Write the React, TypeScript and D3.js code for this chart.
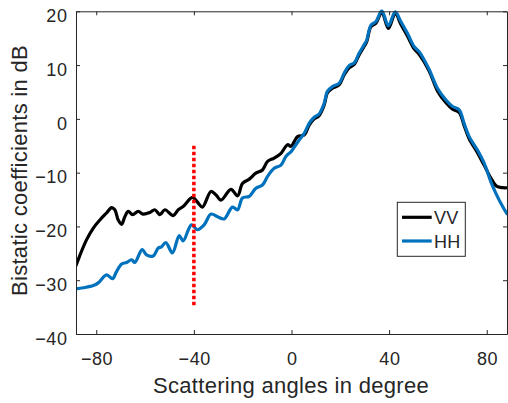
import React, { useEffect, useRef } from "react";
import * as d3 from "d3";

// bistatic scattering coefficients, VV vs HH

const vvAngles = [
  -88.5, -86.9, -84, -81.2, -78.5, -75.8, -73.7, -72.4, -71, -69.6, -68.3, -66.9, -65.1, -62.8,
  -60.8, -58, -56, -53.9, -51.9, -48.5, -46.4, -44.4, -40.6, -38.5, -36.5, -33, -31, -28.9, -24.8,
  -22.1, -20.1, -17.3, -14.6, -11.9, -9.8, -7.1, -4.3, -1.6, -0.2, 2.5, 5.2, 7.3, 9.3, 11.3, 13.4,
  14.7, 16.8, 19.5, 21.6, 23.6, 25.7, 27.7, 29.8, 30.8, 32.5, 34.6, 37, 39.7, 42.5, 44.8, 47.5,
  50.3, 52.3, 56.4, 59.8, 63.3, 66, 68.7, 70.7, 72.8, 76.2, 78.9, 81.7, 84, 86.5, 88.5,
];
const vvValues = [
  -27.5, -25.6, -22.5, -20.3, -18.8, -17.5, -16.5, -16.9, -18.8, -19.6, -18.2, -17.2, -17.8, -17.2,
  -17.7, -17.4, -16.9, -17.8, -16.9, -18.0, -16.9, -16.3, -14.6, -15.5, -16.4, -13.5, -14.1, -15.1,
  -13.1, -14.3, -12.0, -11.2, -10.1, -9.5, -7.9, -7.3, -6.4, -4.8, -5.1, -3.3, -3.0, -1.1, 0.0, 0.6,
  2.6, 4.8, 5.7, 6.3, 8.2, 9.5, 10.1, 11.9, 13.5, 14.3, 17.1, 17.8, 19.8, 16.8, 19.6, 17.6, 15.4,
  13.0, 12.0, 8.9, 5.2, 3.0, 1.8, 1.2, -1.2, -3.7, -6.3, -8.6, -11.0, -12.5, -12.8, -12.8,
];

const hhAngles = [
  -88.5, -85.3, -81.2, -79.2, -75.8, -73.3, -71.7, -69.6, -67.6, -65.5, -64.2, -61.2, -59.4, -56.7,
  -54.6, -53.3, -51.5, -48.8, -46, -44.4, -41, -38.5, -35.8, -33, -30.3, -27.6, -24.2, -22.1, -20.1,
  -17.3, -14.6, -11.9, -9.8, -7.1, -4.3, -2.3, -0.2, 1.5, 3.2, 5.2, 7.3, 9.3, 11.3, 13.4, 14.7,
  16.8, 19.5, 21.6, 23.6, 25.7, 27.7, 29.8, 30.8, 32.5, 34.6, 37, 39.7, 42.5, 44.8, 47.5, 50.3,
  52.3, 56.4, 59.8, 63.3, 66, 68.7, 70.7, 72.8, 76.2, 78.9, 81.7, 83.7, 86.5, 88.5,
];
const hhValues = [
  -31.6, -31.4, -31.0, -30.5, -29.0, -29.7, -28.4, -27.0, -26.7, -26.2, -26.7, -24.3, -25.3, -25.5,
  -24.0, -23.8, -23.0, -24.9, -21.7, -22.7, -19.7, -20.6, -19.7, -17.7, -18.2, -18.6, -16.4, -16.9,
  -14.7, -14.4, -12.9, -12.3, -10.7, -9.2, -8.6, -7.0, -6.1, -5.0, -3.9, -2.7, -0.8, 0.3, 0.9, 2.9,
  5.1, 6.0, 6.6, 8.5, 9.9, 10.4, 12.2, 13.8, 14.6, 17.4, 18.1, 20.1, 17.3, 19.9, 18.1, 15.9, 13.4,
  12.5, 9.2, 5.7, 3.5, 2.3, 1.7, -0.8, -3.3, -5.8, -8.2, -11.7, -13.8, -16.3, -17.8,
];

const xTicks = [-80, -40, 0, 40, 80];
const yTicks = [-40, -30, -20, -10, 0, 10, 20];
const seriesNames = ["VV", "HH"];
const markerAngle = -40;
const markerRange = [-5, -35];

const W = 508;
const H = 403;
const FONT = "'Liberation Sans', Arial, Helvetica, sans-serif";
const AX = "#262626";

export default function App() {
  const svgRef = useRef<SVGSVGElement | null>(null);

  useEffect(() => {
    const svg = d3.select(svgRef.current);
    svg.selectAll("*").remove();

    const left = 76, right = 507, top = 11.3, bottom = 334;
    const x = d3.scaleLinear().domain([-88.3, 88.3]).range([left, right]);
    const y = d3.scaleLinear().domain([-40, 20]).range([bottom, top]);

    svg.append("defs").append("clipPath").attr("id", "plot-clip")
      .append("rect").attr("x", left).attr("y", top - 2)
      .attr("width", right - left).attr("height", bottom - top + 2);

    const line = d3.line<[number, number]>()
      .x((d) => x(d[0]))
      .y((d) => y(d[1]))
      .curve(d3.curveCatmullRom.alpha(0.5));

    const vv = vvAngles.map((a, i) => [a, vvValues[i]] as [number, number]);
    const hh = hhAngles.map((a, i) => [a, hhValues[i]] as [number, number]);

    const plot = svg.append("g").attr("clip-path", "url(#plot-clip)");
    plot.append("path").datum(vv).attr("fill", "none").attr("stroke", "#000000")
      .attr("stroke-width", 3.2).attr("stroke-linejoin", "round").attr("d", line);
    plot.append("path").datum(hh).attr("fill", "none").attr("stroke", "#0072BD")
      .attr("stroke-width", 3.2).attr("stroke-linejoin", "round").attr("d", line);

    // red dotted marker at -40 deg
    svg.append("line")
      .attr("x1", x(markerAngle)).attr("x2", x(markerAngle))
      .attr("y1", y(markerRange[0])).attr("y2", y(markerRange[1]))
      .attr("stroke", "#ff0000").attr("stroke-width", 3.5)
      .attr("stroke-dasharray", "3.6,2.4");

    // axes, MATLAB style: inward ticks, box on
    const styleAxis = (g: d3.Selection<SVGGElement, unknown, null, undefined>) => {
      g.select(".domain").attr("stroke", AX).attr("stroke-width", 1);
      g.selectAll(".tick line").attr("stroke", AX);
      g.selectAll(".tick text").attr("fill", AX).attr("font-family", FONT)
        .attr("font-size", 18).attr("letter-spacing", 0.6);
    };

    const xAxis = svg.append("g").attr("transform", `translate(0,${bottom})`)
      .call(d3.axisBottom(x).tickValues(xTicks).tickSizeInner(-4).tickSizeOuter(0))
      .call(styleAxis);
    xAxis.selectAll(".tick text").attr("y", 30.5).attr("dy", null).attr("dx", 0.3);

    svg.append("g").attr("transform", `translate(0,${top})`)
      .call(d3.axisTop(x).tickValues(xTicks).tickSizeInner(-4).tickSizeOuter(0).tickFormat(() => ""))
      .call(styleAxis);

    const yAxis = svg.append("g").attr("transform", `translate(${left},0)`)
      .call(d3.axisLeft(y).tickValues(yTicks).tickSizeInner(-4).tickSizeOuter(0))
      .call(styleAxis);
    yAxis.selectAll(".tick text").attr("x", -8.5).attr("y", 4).attr("dy", "0.35em");

    svg.append("g").attr("transform", `translate(${right},0)`)
      .call(d3.axisRight(y).tickValues(yTicks).tickSizeInner(-4).tickSizeOuter(0).tickFormat(() => ""))
      .call(styleAxis);

    // axis labels
    svg.append("text").attr("x", (left + right) / 2 - 0.5).attr("y", 393.3)
      .attr("text-anchor", "middle").attr("font-family", FONT).attr("font-size", 22)
      .attr("letter-spacing", 0.3).attr("fill", AX).text("Scattering angles in degree");
    svg.append("text").attr("transform", `translate(27,170.5) rotate(-90)`)
      .attr("text-anchor", "middle").attr("font-family", FONT).attr("font-size", 22)
      .attr("letter-spacing", 0.3).attr("fill", AX).text("Bistatic coefficients in dB");

    // legend
    const lg = svg.append("g");
    lg.append("rect").attr("x", 397.3).attr("y", 202.3).attr("width", 68).attr("height", 54)
      .attr("fill", "#ffffff").attr("stroke", AX).attr("stroke-width", 1);
    const colors = ["#000000", "#0072BD"];
    const rows = [217.3, 241];
    seriesNames.forEach((name, i) => {
      lg.append("line").attr("x1", 402).attr("x2", 431.7).attr("y1", rows[i]).attr("y2", rows[i])
        .attr("stroke", colors[i]).attr("stroke-width", 3.2);
      lg.append("text").attr("x", 434).attr("y", rows[i] + 7).attr("font-family", FONT)
        .attr("font-size", 18).attr("letter-spacing", 0.3).attr("fill", AX).text(name);
    });
  }, []);

  return (
    <svg
      ref={svgRef}
      width={W}
      height={H}
      style={{ position: "absolute", left: 0, top: 0, background: "#ffffff" }}
    />
  );
}
